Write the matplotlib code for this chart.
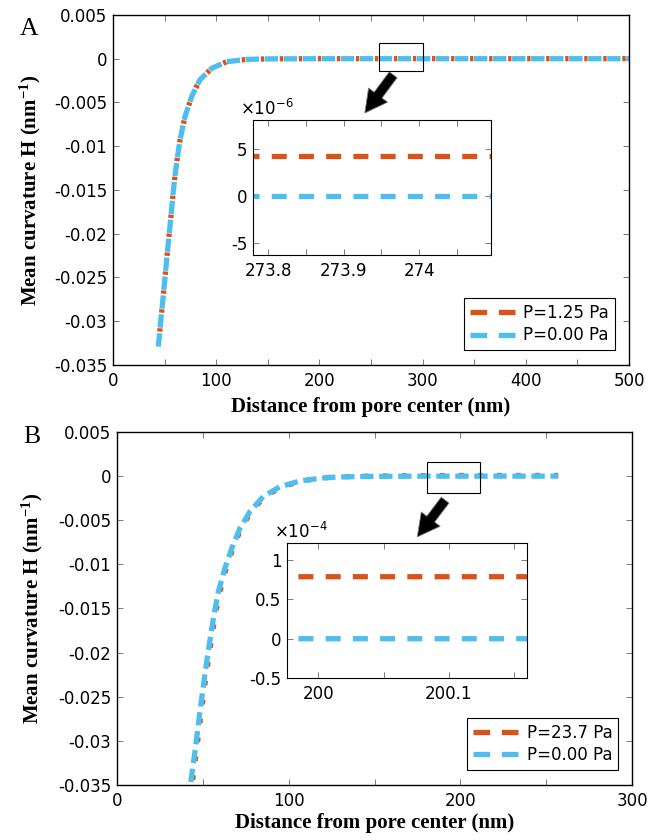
import numpy as np
import matplotlib
matplotlib.use("Agg")
from matplotlib import pyplot as plt
from matplotlib.lines import Line2D
from matplotlib.patches import Rectangle
from matplotlib.ticker import FixedLocator, MultipleLocator, FuncFormatter

plt.rcParams.update({
    'font.family': 'DejaVu Sans',
    'font.size': 12,
    'mathtext.default': 'regular',
    'axes.unicode_minus': False,
    'lines.scale_dashes': False,
    'xtick.direction': 'in', 'ytick.direction': 'in',
    'xtick.top': True, 'ytick.right': True,
    'xtick.major.size': 4, 'ytick.major.size': 4,
    'xtick.minor.size': 4, 'ytick.minor.size': 4,
    'xtick.major.width': 0.6, 'ytick.major.width': 0.6,
    'xtick.minor.width': 0.6, 'ytick.minor.width': 0.6,
    'xtick.color': '#666666', 'ytick.color': '#666666',
    'xtick.labelcolor': 'black', 'ytick.labelcolor': 'black',
    'xtick.major.pad': 5, 'ytick.major.pad': 4,
})

RED = '#D95319'
BLUE = '#4DBEEE'
SERIF = 'Liberation Serif'

# panel A: distance (nm) and mean curvature (1/nm)
dist_a = [43.9, 46.5, 48.8, 52.6, 55.5, 58.4, 60.1, 62.5, 64.9, 69.8, 76.3,
          84.3, 95.6, 110.2, 129.6, 150, 200, 300, 400, 500]
h_a_p000 = [-0.0329, -0.0297, -0.0270, -0.0222, -0.0188, -0.0152, -0.0133,
            -0.0112, -0.0093, -0.0066, -0.0043, -0.0024, -0.0011, -0.00034,
            -0.00008, -0.00002, 0, 0, 0, 0]
h_a_p125 = [-0.0329, -0.0297, -0.0270, -0.0222, -0.0188, -0.0152, -0.0133,
            -0.0112, -0.0093, -0.0066, -0.0043, -0.0024, -0.0011, -0.00034,
            -0.00008, -0.000016, 0.00000426, 0.00000426, 0.00000426,
            0.00000426]

# panel B
dist_b = [41.5, 45.4, 48.3, 51.3, 54.2, 56.5, 59.0, 62.9, 66.8, 71.6, 77.5,
          85.2, 94.9, 106.6, 118.2, 128, 145, 170, 200, 257]
h_b_p000 = [-0.0368, -0.0312, -0.0267, -0.0223, -0.0185, -0.0157, -0.0131,
            -0.0104, -0.0082, -0.0059, -0.0040, -0.0023, -0.0012, -0.00055,
            -0.00024, -0.0001, -0.00003, -0.00001, 0, 0]
h_b_p237 = [-0.0381, -0.0325, -0.0279, -0.0234, -0.0195, -0.0166, -0.0138,
            -0.0109, -0.0086, -0.0062, -0.0042, -0.00245, -0.0013, -0.00059,
            -0.00022, -0.00008, -0.00001, 0.00005, 0.000079, 0.000079]

main_yticks = [-0.035, -0.03, -0.025, -0.02, -0.015, -0.01, -0.005, 0, 0.005]
xticks_a = [0, 100, 200, 300, 400, 500]
xticks_b = [0, 100, 200, 300]
inset_xticks_a = [273.8, 273.9, 274.0]
inset_yticks_a = [-5, 0, 5]
inset_xticks_b = [200.0, 200.1]
inset_yticks_b = [-0.5, 0, 0.5, 1]
legend_a = ['P=1.25 Pa', 'P=0.00 Pa']
legend_b = ['P=23.7 Pa', 'P=0.00 Pa']

fmt = FuncFormatter(lambda v, p: f'{round(v, 6) + 0.0:g}')


def style_axes(ax, lw=1.0):
    for s in ax.spines.values():
        s.set_linewidth(lw)
        s.set_color('black')


def draw_panel(rect, inset_rect, dist, h_p, h_0, xticks, red_dash, box,
               in_xlim, in_ylim, in_xticks, in_yticks, scale, scale_txt,
               labels, arrow, letter, letter_pos, ylab_x, xlab_y):
    ax = fig.add_axes(rect)
    style_axes(ax)
    ax.plot(dist, h_p, color=RED, lw=3.8, linestyle=red_dash)
    ax.plot(dist, h_0, color=BLUE, lw=3.8, linestyle=(0, (9.6, 4.1)))
    ax.set_xlim(xticks[0], xticks[-1])
    ax.set_ylim(main_yticks[0], main_yticks[-1])
    ax.xaxis.set_major_locator(FixedLocator(xticks))
    ax.xaxis.set_minor_locator(MultipleLocator(50))
    ax.yaxis.set_major_locator(FixedLocator(main_yticks))
    ax.xaxis.set_major_formatter(fmt)
    ax.yaxis.set_major_formatter(fmt)
    ax.set_xlabel('Distance from pore center (nm)', family=SERIF,
                  fontweight='bold', fontsize=15)
    ax.set_ylabel('Mean curvature H (nm$^{-1}$)', family=SERIF,
                  fontweight='bold', fontsize=15)
    ax.yaxis.set_label_coords(ylab_x, 0.5)
    ax.xaxis.set_label_coords(0.5, xlab_y)

    ax.add_patch(Rectangle((box[0], box[1]), box[2], box[3], fill=False,
                           ec='black', lw=0.8, zorder=5))
    ax.annotate('', xy=arrow[1], xytext=arrow[0], xycoords='axes fraction',
                textcoords='axes fraction',
                arrowprops=dict(arrowstyle='simple,head_length=0.8,head_width=0.85,tail_width=0.35',
                                fc='black', ec='#777777', lw=0.6,
                                mutation_scale=20, shrinkA=0, shrinkB=0))

    handles = [Line2D([], [], color=RED, lw=3.8, dashes=(12, 8.4)),
               Line2D([], [], color=BLUE, lw=3.8, dashes=(12, 8.4))]
    leg = ax.legend(handles, labels, loc='lower right',
                    bbox_to_anchor=(0.973, 0.042), borderaxespad=0,
                    fancybox=False, framealpha=1, edgecolor='black',
                    handlelength=2.7, handletextpad=0.5, borderpad=0.35,
                    labelspacing=0.25, fontsize=12)
    leg.get_frame().set_linewidth(0.8)

    axi = fig.add_axes(inset_rect)
    style_axes(axi, 0.8)
    axi.plot(dist, np.array(h_p) / scale, color=RED, lw=3.8,
             linestyle=(0, (10.8, 8.8)))
    axi.plot(dist, np.array(h_0) / scale, color=BLUE, lw=3.8,
             linestyle=(0, (10.8, 8.8)))
    axi.set_xlim(in_xlim)
    axi.set_ylim(in_ylim)
    axi.xaxis.set_major_locator(FixedLocator(in_xticks))
    axi.xaxis.set_minor_locator(MultipleLocator(0.05))
    axi.yaxis.set_major_locator(FixedLocator(in_yticks))
    axi.xaxis.set_major_formatter(fmt)
    axi.yaxis.set_major_formatter(fmt)
    axi.text(-0.055, 1.04, '×10$^{%s}$' % scale_txt,
             transform=axi.transAxes, ha='left', va='baseline', fontsize=12)

    fig.text(letter_pos[0], letter_pos[1], letter, family=SERIF, fontsize=18.5,
             va='baseline')


fig = plt.figure(figsize=(6.48, 8.40), dpi=100)

draw_panel([0.1744, 0.5655, 0.7963, 0.4167], [0.3904, 0.6964, 0.3673, 0.1607],
           dist_a, h_a_p125, h_a_p000, xticks_a, (2.85, (2.4, 11.3)),
           (258, -0.0014, 42, 0.0032), (273.78, 274.095), (-6.3, 8.1),
           inset_xticks_a, inset_yticks_a, 1e-6, '-6', legend_a,
           ((0.543, 0.829), (0.488, 0.72)), 'A', (20 / 648, 1 - 35 / 840),
           -0.135, -0.091)

draw_panel([0.1806, 0.0655, 0.7948, 0.4202], [0.4429, 0.1929, 0.3704, 0.1607],
           dist_b, h_b_p237, h_b_p000, xticks_b, (3.75, (3.4, 10.3)),
           (180.5, -0.0019, 30.9, 0.0035), (199.976, 200.16), (-0.5, 1.22),
           inset_xticks_b, inset_yticks_b, 1e-4, '-4', legend_b,
           ((0.637, 0.807), (0.583, 0.703)), 'B', (23 / 648, 1 - 443 / 840),
           -0.139, -0.079)

fig.savefig('out.png', dpi=100)
